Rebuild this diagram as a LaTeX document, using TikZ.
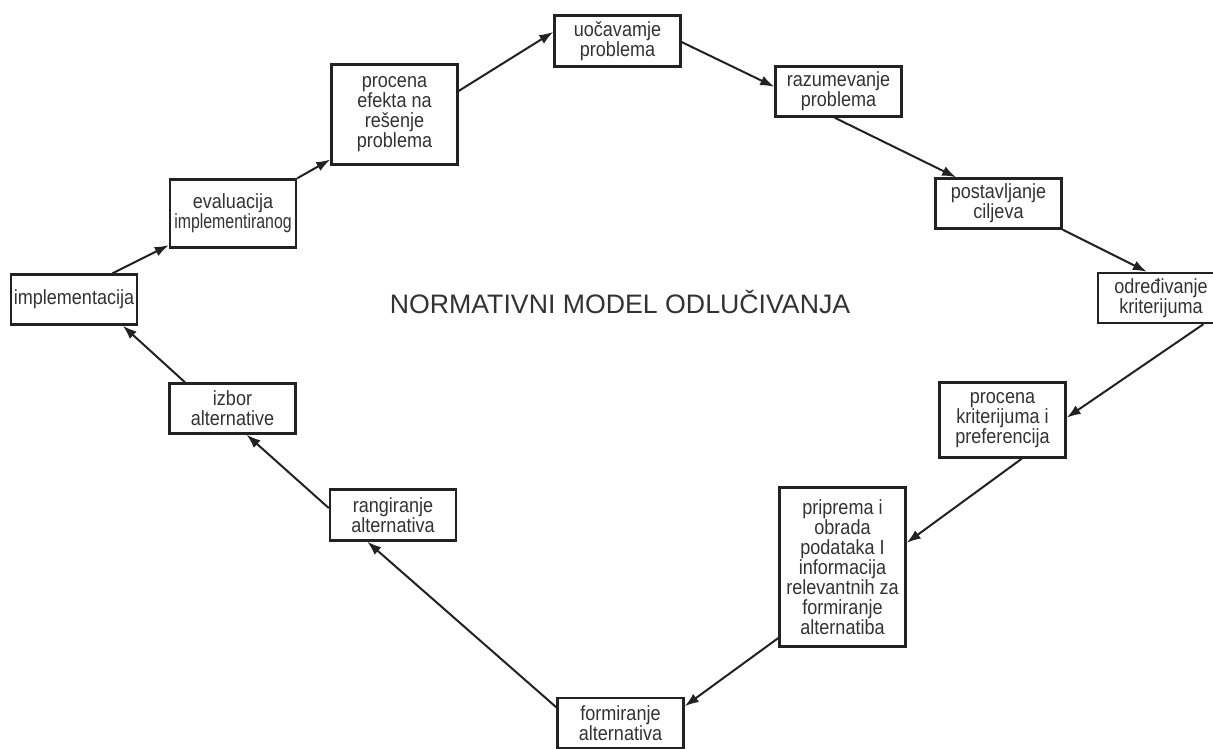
\documentclass[tikz,border=0pt]{standalone}
\usepackage{fontspec}
\setmainfont{Liberation Sans}
\newfontfamily\boxfont[FakeStretch=0.88]{Liberation Sans}
\usetikzlibrary{arrows.meta,calc}
\definecolor{txtc}{HTML}{333333}
\definecolor{boxc}{HTML}{222222}
\begin{document}
\begin{tikzpicture}[x=1pt,y=-1pt,
  box/.style={draw=boxc, line width=2.4pt, text=txtc, align=center, minimum width=126pt, inner sep=0pt, font=\boxfont\fontsize{20.5}{20}\selectfont},
  arr/.style={draw=boxc, line width=2pt, -{Latex[length=14pt,width=10pt]}}]
\clip (0,0) rectangle (1213,748);
\fill[white] (0,0) rectangle (1213,748);

\node[box, minimum height=51pt] (uoc) at (617.5,41) {uočavamje\\problema};
\node[box, minimum height=50pt] (raz) at (838.5,91.5) {razumevanje\\problema};
\node[box, minimum height=50pt] (post) at (998.5,203.5) {postavljanje\\ciljeva};
\node[box, minimum height=50pt] (odr) at (1161,298) {određivanje\\kriterijuma};
\node[box, minimum height=75pt] (prock) at (1002.5,420) {procena\\kriterijuma i\\preferencija};
\node[box, minimum height=159pt] (prip) at (842.5,567) {priprema i\\obrada\\podataka I\\informacija\\relevantnih za\\formiranje\\alternatiba};
\node[box, minimum height=50pt] (form) at (620.5,723) {formiranje\\alternativa};
\node[box, minimum height=51pt] (rang) at (393,515) {rangiranje\\alternativa};
\node[box, minimum height=50pt] (izbor) at (232.5,408.5) {izbor\\alternative};
\node[box, minimum height=50pt] (impl) at (74,299.5) {implementacija};
\node[box, minimum height=68pt] (eval) at (233,213.5) {evaluacija\\\scalebox{0.88}[1]{implementiranog}};
\node[box, minimum height=100pt] (proce) at (394.5,114.5) {procena\\efekta na\\rešenje\\problema};
\node[text=txtc, font=\fontsize{26.7}{30}\selectfont] (title) at (620,301.5) {NORMATIVNI MODEL ODLUČIVANJA};

\draw[arr] ($(impl.north west)!0.8!(impl.north east)$) -- ($(eval.north west)!0.95!(eval.south west)$);
\draw[arr] (eval.north east) -- ($(proce.north west)!0.94!(proce.south west)$);
\draw[arr] ($(proce.north east)!0.27!(proce.south east)$) -- ($(uoc.north west)!0.33!(uoc.south west)$);
\draw[arr] ($(uoc.north east)!0.52!(uoc.south east)$) -- ($(raz.north west)!0.41!(raz.south west)$);
\draw[arr] ($(raz.south west)!0.47!(raz.south east)$) -- ($(post.north west)!0.17!(post.north east)$);
\draw[arr] (post.south east) -- ($(odr.north west)!0.39!(odr.north east)$);
\draw[arr] ($(odr.south west)!0.83!(odr.south east)$) -- ($(prock.north east)!0.47!(prock.south east)$);
\draw[arr] ($(prock.south west)!0.65!(prock.south east)$) -- ($(prip.north east)!0.35!(prip.south east)$);
\draw[arr] ($(prip.north west)!0.94!(prip.south west)$) -- ($(form.north east)!0.18!(form.south east)$);
\draw[arr] ($(form.north west)!0.2!(form.south west)$) -- ($(rang.south west)!0.3!(rang.south east)$);
\draw[arr] ($(rang.north west)!0.37!(rang.south west)$) -- ($(izbor.south west)!0.61!(izbor.south east)$);
\draw[arr] ($(izbor.north west)!0.13!(izbor.north east)$) -- ($(impl.south west)!0.88!(impl.south east)$);
\end{tikzpicture}
\end{document}
